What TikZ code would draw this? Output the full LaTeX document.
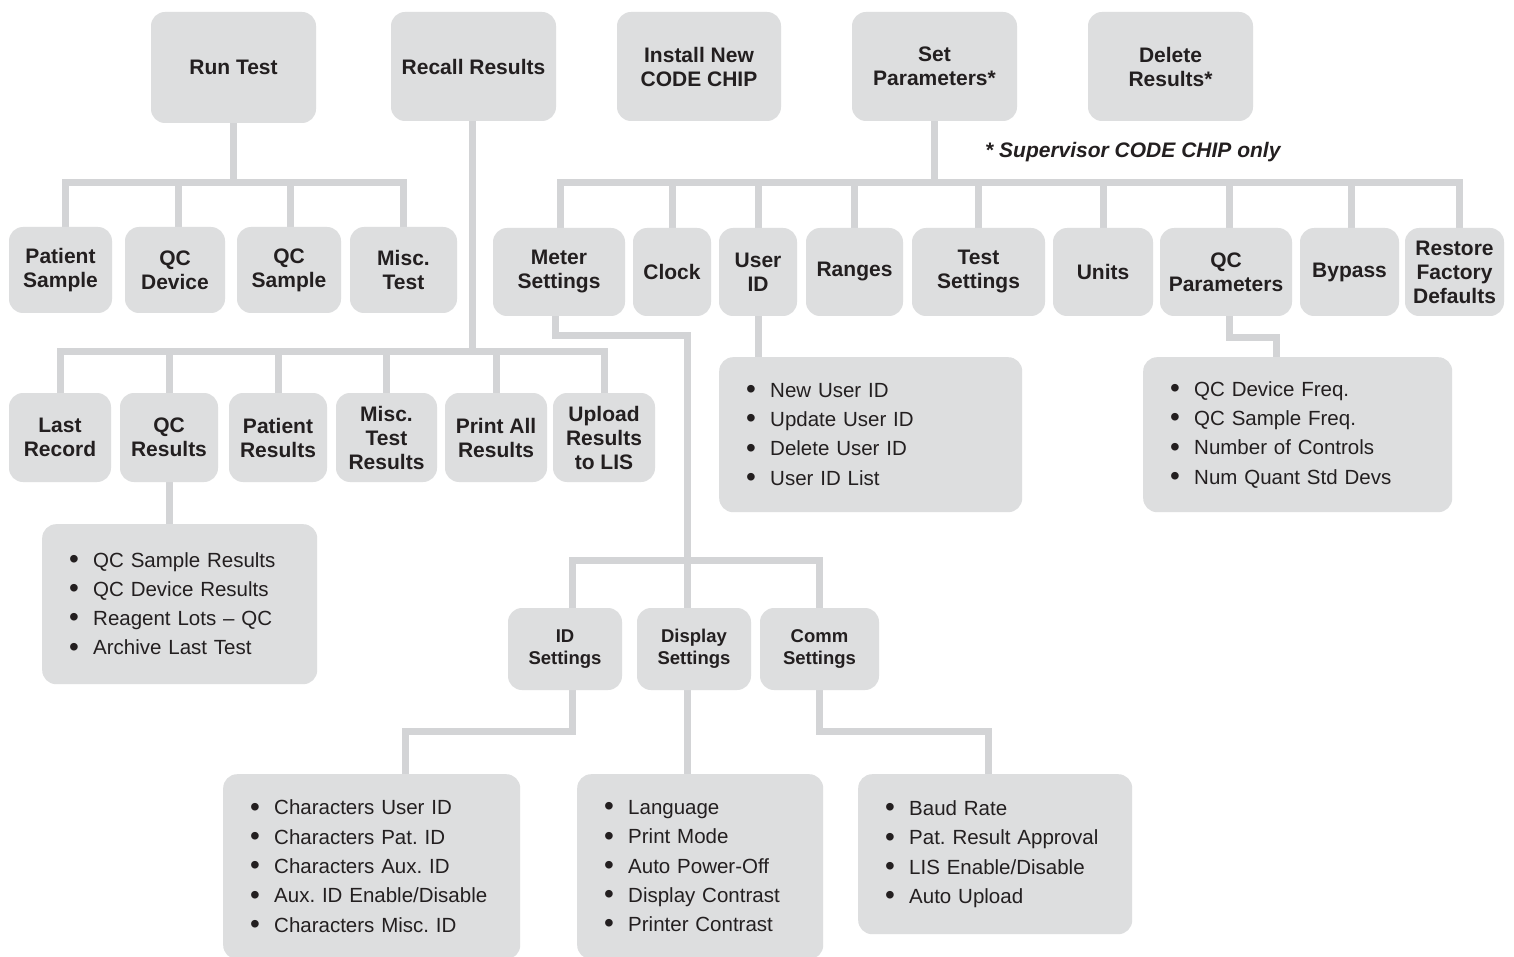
\documentclass[tikz,border=0pt]{standalone}
\usepackage{fontspec}
\setmainfont{Liberation Sans}
\usetikzlibrary{backgrounds}
\definecolor{boxfill}{RGB}{221,222,223}
\definecolor{linecol}{RGB}{211,212,214}
\definecolor{txt}{RGB}{35,31,32}
\frenchspacing
\newcommand{\itm}[1]{\makebox[24pt][l]{\raisebox{-1.2pt}{\fontsize{28}{28}\selectfont•}}#1}
\begin{document}
\begin{tikzpicture}[x=1pt,y=-1pt,
 box/.style={fill=boxfill, rounded corners=14pt, inner sep=0pt, align=center, text=txt, font=\bfseries\fontsize{21}{24}\selectfont},
 sbox/.style={box, font=\bfseries\fontsize{18.5}{22}\selectfont},
 listbox/.style={fill=boxfill, rounded corners=14pt, inner xsep=27pt, inner ysep=0pt, align=left, text=txt, font=\fontsize{20.5}{29.3}\selectfont, anchor=north west},
 conn/.style={draw=linecol, line width=7pt, line cap=rect, line join=miter}]
\useasboundingbox (0,0) rectangle (1514,957);

% top row
\node[box, minimum width=165pt, minimum height=111pt] (run) at (233.5,67.5) {Run Test};
\node[box, minimum width=165pt, minimum height=109pt] (rec) at (473.5,66.5) {Recall Results};
\node[box, minimum width=164pt, minimum height=109pt] (inst) at (699,66.5) {Install New\\CODE CHIP};
\node[box, minimum width=165pt, minimum height=109pt] (setp) at (934.5,66.5) {Set\\Parameters*};
\node[box, minimum width=165pt, minimum height=109pt] (del) at (1170.5,66.5) {Delete\\Results*};

\node[font=\bfseries\itshape\fontsize{21}{24}\selectfont, anchor=west, text=txt, inner sep=0pt] (note) at (985,152) {* Supervisor CODE CHIP only};

% run test children
\node[box, minimum width=103pt, minimum height=86pt] (ps) at (60.5,270) {Patient\\Sample};
\node[box, minimum width=100pt, minimum height=86pt] (qd) at (175,270) {QC\\Device};
\node[box, minimum width=104pt, minimum height=86pt] (qs) at (289,270) {QC\\Sample};
\node[box, minimum width=107pt, minimum height=86pt] (mt) at (403.5,270) {Misc.\\Test};

% recall children
\node[box, minimum width=102pt, minimum height=89pt] (lr) at (60,437.5) {Last\\Record};
\node[box, minimum width=98pt, minimum height=89pt] (qr) at (169,437.5) {QC\\Results};
\node[box, minimum width=98pt, minimum height=89pt] (pr) at (278,437.5) {Patient\\Results};
\node[box, minimum width=101pt, minimum height=89pt] (mtr) at (386.5,437.5) {Misc.\\Test\\Results};
\node[box, minimum width=102pt, minimum height=89pt] (pa) at (496,437.5) {Print All\\Results};
\node[box, minimum width=102pt, minimum height=89pt] (up) at (604,437.5) {Upload\\Results\\to LIS};

% set parameters children
\node[box, minimum width=132pt, minimum height=88pt] (ms) at (559,272) {Meter\\Settings};
\node[box, minimum width=78pt, minimum height=88pt] (clk) at (672,272) {Clock};
\node[box, minimum width=78pt, minimum height=88pt] (uid) at (758,272) {User\\ID};
\node[box, minimum width=97pt, minimum height=88pt] (rng) at (854.5,272) {Ranges};
\node[box, minimum width=133pt, minimum height=88pt] (ts) at (978.5,272) {Test\\Settings};
\node[box, minimum width=100pt, minimum height=88pt] (un) at (1103,272) {Units};
\node[box, minimum width=132pt, minimum height=88pt] (qcp) at (1226,272) {QC\\Parameters};
\node[box, minimum width=99pt, minimum height=88pt] (byp) at (1349.5,272) {Bypass};
\node[box, minimum width=99pt, minimum height=88pt] (rfd) at (1454.5,272) {Restore\\Factory\\Defaults};

% meter settings children
\node[sbox, minimum width=114pt, minimum height=82pt] (ids) at (565,649) {ID\\Settings};
\node[sbox, minimum width=114pt, minimum height=82pt] (dis) at (694,649) {Display\\Settings};
\node[sbox, minimum width=119pt, minimum height=82pt] (com) at (819.5,649) {Comm\\Settings};

% lists
\node[listbox, minimum width=275pt, minimum height=160pt, text width=221pt] (qcl) at (42,524)
 {\itm{QC Sample Results}\\\itm{QC Device Results}\\\itm{Reagent Lots – QC}\\\itm{Archive Last Test}};
\node[listbox, minimum width=303pt, minimum height=155pt, text width=249pt] (uidl) at (719,357)
 {\itm{New User ID}\\\itm{Update User ID}\\\itm{Delete User ID}\\\itm{User ID List}};
\node[listbox, minimum width=309pt, minimum height=155pt, text width=255pt] (qcpl) at (1143,357)
 {\itm{QC Device Freq.}\\\itm{QC Sample Freq.}\\\itm{Number of Controls}\\\itm{Num Quant Std Devs}};
\node[listbox, minimum width=297pt, minimum height=185pt, text width=243pt] (idl) at (223,774)
 {\itm{Characters User ID}\\\itm{Characters Pat. ID}\\\itm{Characters Aux. ID}\\\itm{Aux. ID Enable/Disable}\\\itm{Characters Misc. ID}};
\node[listbox, minimum width=246pt, minimum height=185pt, text width=192pt] (disl) at (577,774)
 {\itm{Language}\\\itm{Print Mode}\\\itm{Auto Power-Off}\\\itm{Display Contrast}\\\itm{Printer Contrast}};
\node[listbox, minimum width=274pt, minimum height=160pt, text width=220pt] (coml) at (858,774)
 {\itm{Baud Rate}\\\itm{Pat. Result Approval}\\\itm{LIS Enable/Disable}\\\itm{Auto Upload}};

% helper coordinates
\coordinate (rtbar) at (0,183);
\coordinate (rrbar) at (0,351);
\coordinate (spbar) at (0,183);
\coordinate (msbend) at (0,335);
\coordinate (msbar) at (0,560);
\coordinate (qpbend) at (0,337);
\coordinate (setbend) at (0,731);

\coordinate (psT) at ([xshift=5pt]ps.north);
\coordinate (qdT) at ([xshift=3pt]qd.north);
\coordinate (qsT) at ([xshift=1pt]qs.north);
\coordinate (mtT) at (mt.north);
\coordinate (msT) at ([xshift=1pt]ms.north);
\coordinate (qcpT) at ([xshift=3pt]qcp.north);
\coordinate (bypT) at ([xshift=2pt]byp.north);
\coordinate (rfdT) at ([xshift=5pt]rfd.north);
\coordinate (msB) at ([xshift=-4pt]ms.south);
\coordinate (disT) at ([xshift=-7pt]dis.north);
\coordinate (disB) at ([xshift=-7pt]dis.south);
\coordinate (idsT) at ([xshift=7pt]ids.north);
\coordinate (idsB) at ([xshift=7pt]ids.south);
\coordinate (qcpB) at ([xshift=3pt]qcp.south);
\coordinate (qcplT) at ([xshift=-21.5pt]qcpl.north);
\coordinate (idlT) at ([xshift=33.5pt]idl.north);
\coordinate (comlT) at ([xshift=-7pt]coml.north);

\begin{scope}[on background layer]
\fill[white] (0,0) rectangle (1514,957);
% run test
\draw[conn] (run.south) -- (run.south |- rtbar);
\draw[conn] (psT |- rtbar) -- (mtT |- rtbar);
\foreach \c in {psT,qdT,qsT,mtT}{\draw[conn] (\c) -- (\c |- rtbar);}
% recall results
\draw[conn] ([xshift=-1.5pt]rec.south) -- ([xshift=-1.5pt]rec.south |- rrbar);
\draw[conn] (lr.north |- rrbar) -- (up.north |- rrbar);
\foreach \c in {lr,qr,pr,mtr,pa,up}{\draw[conn] (\c.north) -- (\c.north |- rrbar);}
\draw[conn] (qr.south) -- (qr.south |- qcl.north);
% set parameters
\draw[conn] (setp.south) -- (setp.south |- spbar);
\draw[conn] (msT |- spbar) -- (rfdT |- spbar);
\foreach \c in {msT,clk.north,uid.north,rng.north,ts.north,un.north,qcpT,bypT,rfdT}{\draw[conn] (\c) -- (\c |- spbar);}
\draw[conn] (uid.south) -- (uid.south |- uidl.north);
\draw[conn] (qcpB) |- (qcplT |- qpbend) -- (qcplT);
% meter settings
\draw[conn] (msB) |- (disT |- msbend) -- (disT);
\draw[conn] (idsT |- msbar) -- (com.north |- msbar);
\draw[conn] (idsT) -- (idsT |- msbar);
\draw[conn] (com.north) -- (com.north |- msbar);
\draw[conn] (idsB) |- (idlT |- setbend) -- (idlT);
\draw[conn] (disB) -- (disB |- disl.north);
\draw[conn] (com.south) |- (comlT |- setbend) -- (comlT);
\end{scope}
\end{tikzpicture}
\end{document}
